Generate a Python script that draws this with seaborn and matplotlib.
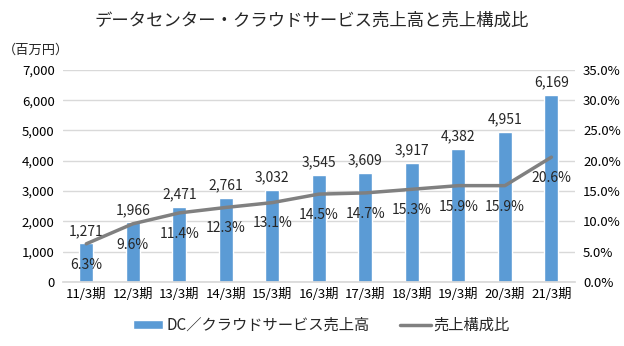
import numpy as np
import pandas as pd
import matplotlib
matplotlib.use("Agg")
import matplotlib.pyplot as plt
import seaborn as sns
from matplotlib.ticker import FuncFormatter, MultipleLocator
from matplotlib.lines import Line2D
from matplotlib.patches import Patch

categories = ["11/3期", "12/3期", "13/3期", "14/3期", "15/3期", "16/3期",
              "17/3期", "18/3期", "19/3期", "20/3期", "21/3期"]
sales = [1271, 1966, 2471, 2761, 3032, 3545, 3609, 3917, 4382, 4951, 6169]
ratio = [6.3, 9.6, 11.4, 12.3, 13.1, 14.5, 14.7, 15.3, 15.9, 15.9, 20.6]

sns.set_theme(style="white")
plt.rcParams['font.family'] = ['Noto Sans CJK JP', 'DejaVu Sans']

bar_color = "#5b9bd5"
line_color = "#808080"

df = pd.DataFrame({"cat": categories, "sales": sales, "ratio": ratio,
                   "pos": np.arange(len(categories))})

fig = plt.figure(figsize=(6.24, 3.46), dpi=100)
ax = fig.add_axes([0.101, 0.185, 0.82, 0.613])

sns.barplot(data=df, x="cat", y="sales", color=bar_color, width=0.3,
            saturation=1, ax=ax, zorder=2)
ax.set_ylim(0, 7000)
ax.yaxis.set_major_locator(MultipleLocator(1000))
ax.yaxis.set_major_formatter(FuncFormatter(lambda v, p: f"{int(v):,}"))
ax.grid(axis="y", color="#d9d9d9", linewidth=1, zorder=0)
ax.set_axisbelow(True)
ax.set_xlabel("")
ax.set_ylabel("")
ax.set_xlim(-0.5, len(categories) - 0.5)
for s in ["top", "right", "left"]:
    ax.spines[s].set_visible(False)
ax.spines["bottom"].set_color("#d9d9d9")
ax.tick_params(axis="both", length=0, labelsize=9.5, colors="black")
ax.tick_params(axis="y", pad=6)
ax.tick_params(axis="x", pad=4)

for i, v in enumerate(sales):
    ax.annotate(f"{v:,}", (i, v), xytext=(0, 4), textcoords="offset points",
                ha="center", va="bottom", fontsize=10)

ax2 = ax.twinx()
sns.lineplot(data=df, x="pos", y="ratio", color=line_color, linewidth=2.5,
             ax=ax2, zorder=3)
ax2.set_ylim(0, 35)
ax2.yaxis.set_major_locator(MultipleLocator(5))
ax2.yaxis.set_major_formatter(FuncFormatter(lambda v, p: f"{v:.1f}%"))
ax2.set_xlim(-0.5, len(categories) - 0.5)
ax2.set_ylabel("")
ax2.set_xlabel("")
for s in ["top", "right", "left", "bottom"]:
    ax2.spines[s].set_visible(False)
ax2.tick_params(axis="y", length=0, labelsize=9.5, pad=6, colors="black")

for i, v in enumerate(ratio):
    ax2.annotate(f"{v:.1f}%", (i, v), xytext=(0, -10), textcoords="offset points",
                 ha="center", va="top", fontsize=10)

fig.text(0.5, 0.94, "データセンター・クラウドサービス売上高と売上構成比",
         ha="center", va="center", fontsize=12.5)
fig.text(0.005, 0.855, "（百万円）", ha="left", va="center", fontsize=9.5)

handles = [Patch(facecolor=bar_color, label="DC／クラウドサービス売上高"),
           Line2D([0], [0], color=line_color, linewidth=2.5, label="売上構成比")]
fig.legend(handles=handles, loc="center", bbox_to_anchor=(0.515, 0.06), ncol=2,
           frameon=False, fontsize=11, handlelength=2.0, handleheight=0.5,
           columnspacing=2.0, handletextpad=0.2)

fig.savefig("out.png", dpi=100)
